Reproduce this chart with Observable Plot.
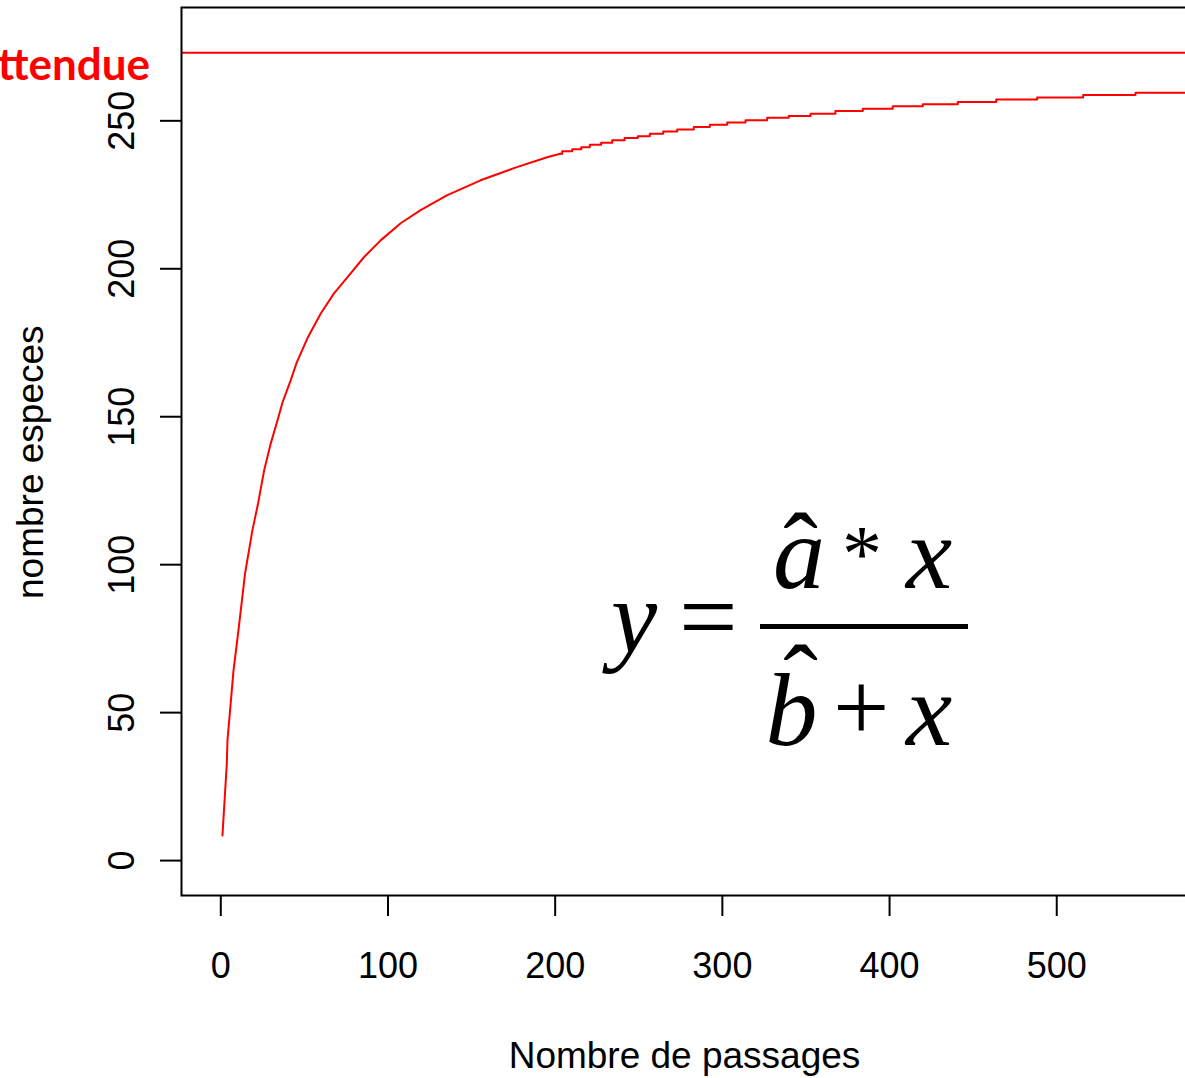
<!DOCTYPE html>
<html>
<head>
<meta charset="utf-8">
<script src="https://cdn.jsdelivr.net/npm/d3@7"></script>
<script src="https://cdn.jsdelivr.net/npm/@observablehq/plot@0.6"></script>
<style>
html, body { margin: 0; padding: 0; background: #fff; overflow: hidden; width: 1185px; height: 1078px; }
#wrap { position: relative; width: 1185px; height: 1078px; overflow: hidden; }
#chart { width: 1250px; }
#chart svg { display: block; max-width: none !important; }
#overlay { position: absolute; left: 0; top: 0; pointer-events: none; }
</style>
</head>
<body>
<div id="wrap">
  <div id="chart"></div>
  <svg id="overlay" width="1185" height="1078" xmlns="http://www.w3.org/2000/svg">
    <text x="150" y="80" text-anchor="end" font-family="Lato, 'Open Sans', sans-serif" font-weight="700" font-size="44" fill="#ff0000">Richesse attendue</text>
    <g font-family="'Liberation Serif', 'Times New Roman', serif" fill="#000">
      <text x="611" y="652" font-size="104" font-style="italic">y</text>
      <text x="679" y="652" font-size="104">=</text>
      <text x="773" y="588" font-size="104" font-style="italic">a</text>
      <text x="800.5" y="585" font-size="104" text-anchor="middle">ˆ</text>
      <text x="862" y="581" font-size="80" text-anchor="middle">*</text>
      <text x="906" y="588" font-size="104" font-style="italic">x</text>
      <line x1="760" x2="968" y1="626.5" y2="626.5" stroke="#000" stroke-width="5"/>
      <text x="765.6" y="745" font-size="104" font-style="italic">b</text>
      <text x="800.5" y="716.5" font-size="104" text-anchor="middle">ˆ</text>
      <text x="833" y="741" font-size="100">+</text>
      <text x="906" y="745" font-size="104" font-style="italic">x</text>
    </g>
  </svg>
</div>
<script>
// Courbe d'accumulation : début (partie raide)
const passagesDebut = [1, 3.6, 4, 7.6, 10.9, 14.5, 18.9, 22.3, 25.9, 29.9, 33.9, 36.9, 41.8, 45.2, 51.8, 59.8, 67.7, 75.7, 85.6, 95.6, 107.6, 119.5, 135.5, 155.4, 175.3, 195.2, 203];
const especesDebut = [8.5, 32.8, 40.6, 64.2, 79.4, 97.0, 111.6, 120.7, 131.8, 141.0, 148.7, 154.8, 162.3, 168.0, 176.5, 184.9, 191.7, 197.1, 203.9, 209.6, 215.4, 219.8, 224.9, 229.9, 234.0, 237.7, 238.9];

// Paliers (partie plate, en escalier)
const passagesPaliers = [203, 204.2, 210.2, 215.6, 220.7, 227.5, 234.1, 241.5, 249.4, 256.6, 264.6, 273.0, 282.9, 292.5, 302.9, 313.8, 326.8, 339.7, 352.7, 367.6, 384.0, 401.9, 419.9, 440.8, 463.8, 488.3, 515.8, 547.1, 580];
const especesPaliers = [238.9, 239.7, 240.4, 241.1, 241.9, 242.6, 243.4, 244.2, 244.8, 245.6, 246.4, 247.1, 247.9, 248.7, 249.4, 250.2, 251.0, 251.6, 252.4, 253.3, 254.1, 254.9, 255.6, 256.4, 257.2, 257.9, 258.7, 259.5, 259.5];

const richesseAttendue = 273;
const xTicks = [0, 100, 200, 300, 400, 500];
const yTicks = [0, 50, 100, 150, 200, 250];
const xTitre = "Nombre de passages";
const yTitre = "nombre especes";

const debut = passagesDebut.map((p, i) => ({passages: p, especes: especesDebut[i]}));
const paliers = passagesPaliers.map((p, i) => ({passages: p, especes: especesPaliers[i]}));

const chart = Plot.plot({
  width: 1250,
  height: 1078,
  marginLeft: 181,
  marginRight: 9,
  marginTop: 7,
  marginBottom: 183,
  x: {domain: [-23.5, 610.5]},
  y: {domain: [-11.8, 288.3]},
  style: {fontFamily: "'Liberation Sans', Arial, Helvetica, sans-serif", fontSize: "36px", color: "#000", background: "#fff", maxWidth: "none"},
  marks: [
    Plot.ruleY([richesseAttendue], {stroke: "#ff0000", strokeWidth: 2}),
    Plot.line(debut, {x: "passages", y: "especes", stroke: "#ff0000", strokeWidth: 2}),
    Plot.line(paliers, {x: "passages", y: "especes", stroke: "#ff0000", strokeWidth: 2, curve: "step-after"}),
    Plot.frame({stroke: "#000", strokeWidth: 2}),
    Plot.axisX(xTicks, {tickSize: 21, tickPadding: 36, strokeWidth: 2, fontSize: 36, label: null}),
    Plot.axisY(yTicks, {tickSize: 21, tickPadding: 27, tickRotate: -90, strokeWidth: 2, fontSize: 36, label: null}),
    Plot.text([xTitre], {frameAnchor: "bottom", dx: 684 - 711, dy: 1067.5 - 895, lineAnchor: "bottom", textAnchor: "middle", fontSize: 37, text: d => d}),
    Plot.text([yTitre], {frameAnchor: "left", rotate: -90, dx: 42.7 - 181, dy: 461.7 - 451, lineAnchor: "bottom", textAnchor: "middle", fontSize: 37, text: d => d})
  ]
});
chart.style.maxWidth = "none";
chart.style.width = "1250px";
chart.style.height = "1078px";
document.getElementById("chart").appendChild(chart);
</script>
</body>
</html>
